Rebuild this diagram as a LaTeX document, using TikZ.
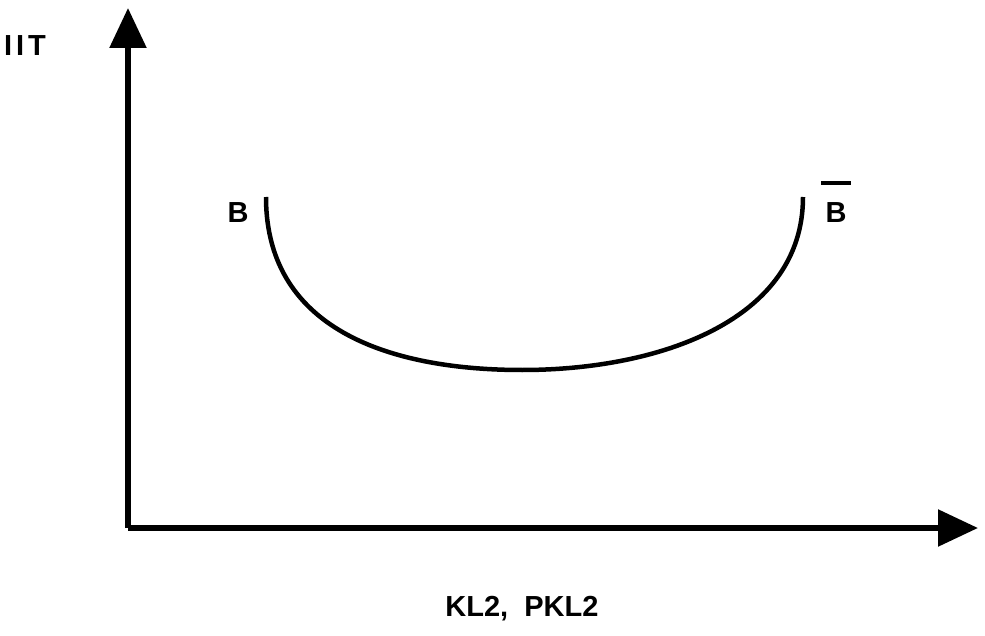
\documentclass[tikz,border=0pt]{standalone}
\usepackage{fontspec}
\setmainfont{Liberation Sans}
\usetikzlibrary{arrows.meta}
\begin{document}
\begin{tikzpicture}[x=1pt,y=-1pt,
  axis/.style={line width=5.5pt,-{Triangle[length=40pt,width=36pt]}},
  curve/.style={line width=4.5pt},
  lbl/.style={font=\fontsize{29}{32}\selectfont\bfseries,inner sep=0pt}]
\useasboundingbox (0,0) rectangle (985,636);
\coordinate (O) at (128,528);
\coordinate (Ytop) at (128,8);
\coordinate (Xend) at (978,528);
\draw[axis] (O) -- (Ytop);
\draw[axis] (O) -- (Xend);
\coordinate (L) at (266,197);
\coordinate (M) at (522,370);
\coordinate (R) at (803,197);
\draw[curve] (L) .. controls (266,335) and (400,370) .. (M)
  .. controls (660,370) and (803,320) .. (R);
\node[lbl] (ylab) at (25,46) {I\kern4pt I\kern4pt T};
\node[lbl] (xlab) at (522,609) {KL2,\ \ PKL2};
\node[lbl] (bl) at (238,213) {B};
\node[lbl] (br) at (836,213) {B};
\draw[line width=4pt] (821,183) -- (851,183);
\end{tikzpicture}
\end{document}
